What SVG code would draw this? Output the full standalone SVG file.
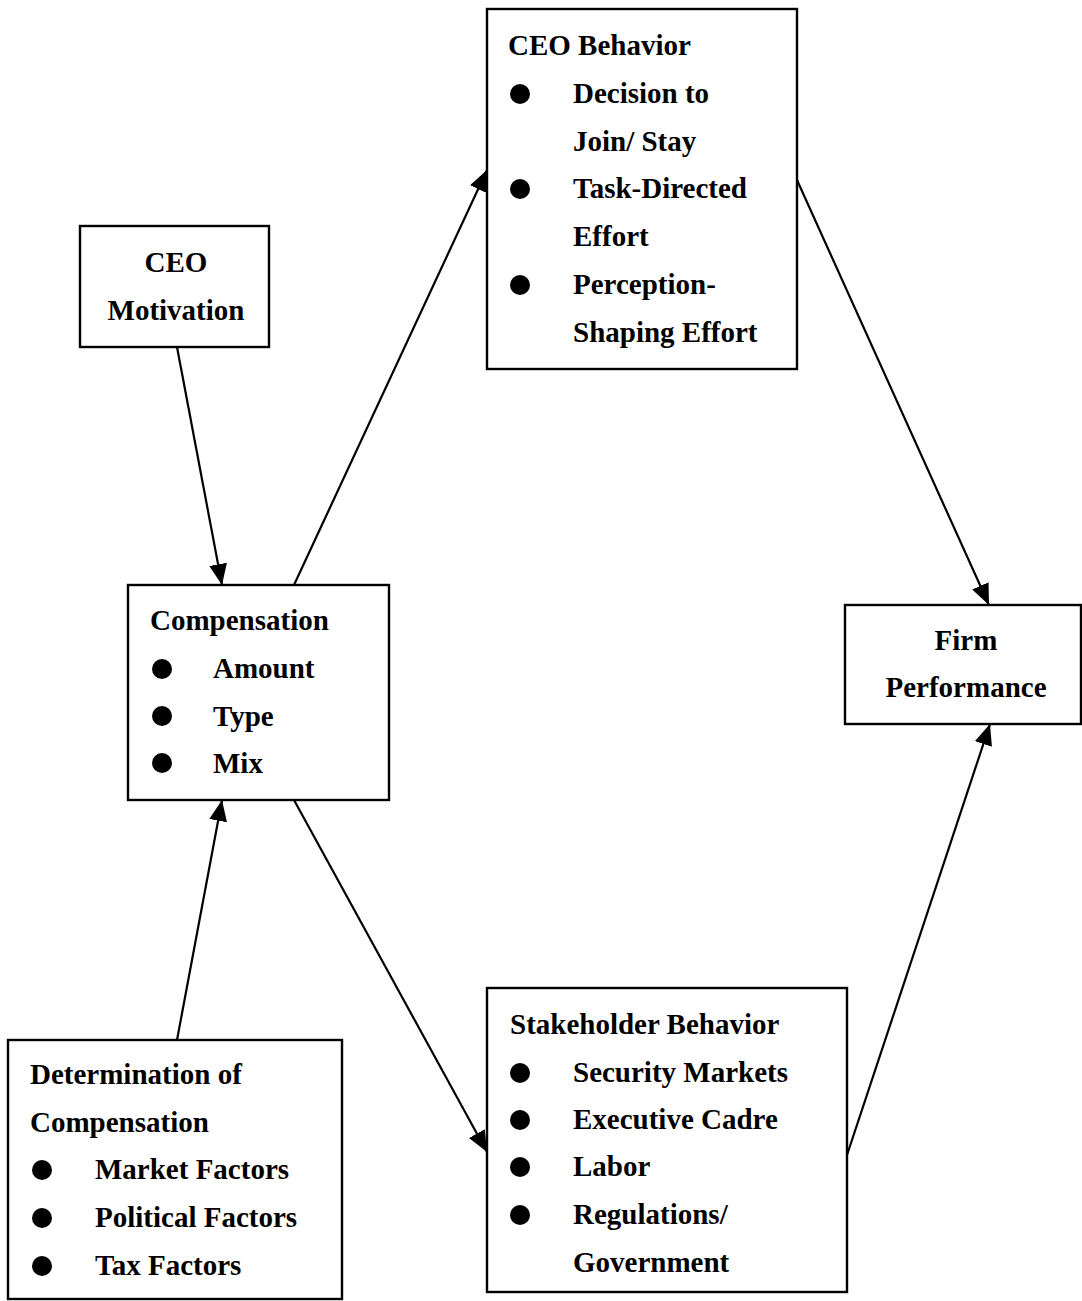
<svg xmlns="http://www.w3.org/2000/svg" width="1082" height="1301" viewBox="0 0 1082 1301">
<defs>
<style>
.box{fill:#fff;stroke:#000;stroke-width:2.4}
.t{font-family:"Liberation Serif","Times New Roman",serif;font-weight:bold;font-size:29px;fill:#000}
.c{text-anchor:middle}
.b{fill:#000}
.edge{stroke:#000;stroke-width:2.2;fill:none;marker-end:url(#ah)}
</style>
<marker id="ah" markerUnits="userSpaceOnUse" markerWidth="22" markerHeight="18" refX="21" refY="9" orient="auto">
<path d="M0,0 L21,9 L0,18 z" fill="#000"/>
</marker>
</defs>
<rect width="1082" height="1301" fill="#fff"/>
<g id="connectors">
<line class="edge" x1="177" y1="347" x2="222" y2="585"/>
<line class="edge" x1="294" y1="585" x2="487" y2="170"/>
<line class="edge" x1="797" y1="180" x2="989" y2="605"/>
<line class="edge" x1="294" y1="800" x2="487" y2="1152"/>
<line class="edge" x1="177" y1="1040" x2="222" y2="800"/>
<line class="edge" x1="847" y1="1155" x2="990" y2="724"/>
</g>
<g id="ceo-behavior">
<rect class="box" x="487" y="9" width="310" height="360"/>
<text class="t" x="508" y="55">CEO Behavior</text>
<circle class="b" cx="520" cy="94" r="10"/>
<text class="t" x="573" y="103">Decision to</text>
<text class="t" x="573" y="151">Join/ Stay</text>
<circle class="b" cx="520" cy="189" r="10"/>
<text class="t" x="573" y="198">Task-Directed</text>
<text class="t" x="573" y="246">Effort</text>
<circle class="b" cx="520" cy="285" r="10"/>
<text class="t" x="573" y="294">Perception-</text>
<text class="t" x="573" y="342">Shaping Effort</text>
</g>
<g id="ceo-motivation">
<rect class="box" x="80" y="226" width="189" height="121"/>
<text class="t c" x="176" y="272">CEO</text>
<text class="t c" x="176" y="320">Motivation</text>
</g>
<g id="compensation">
<rect class="box" x="128" y="585" width="261" height="215"/>
<text class="t" x="150" y="630">Compensation</text>
<circle class="b" cx="162" cy="669" r="10"/>
<text class="t" x="213" y="678">Amount</text>
<circle class="b" cx="162" cy="716" r="10"/>
<text class="t" x="213" y="726">Type</text>
<circle class="b" cx="162" cy="763" r="10"/>
<text class="t" x="213" y="773">Mix</text>
</g>
<g id="firm-performance">
<rect class="box" x="845" y="605" width="236" height="119"/>
<text class="t c" x="966" y="650">Firm</text>
<text class="t c" x="966" y="697">Performance</text>
</g>
<g id="determination">
<rect class="box" x="8" y="1040" width="334" height="259"/>
<text class="t" x="30" y="1084">Determination of</text>
<text class="t" x="30" y="1132">Compensation</text>
<circle class="b" cx="42" cy="1170" r="10"/>
<text class="t" x="95" y="1179">Market Factors</text>
<circle class="b" cx="42" cy="1218" r="10"/>
<text class="t" x="95" y="1227">Political Factors</text>
<circle class="b" cx="42" cy="1266" r="10"/>
<text class="t" x="95" y="1275">Tax Factors</text>
</g>
<g id="stakeholder-behavior">
<rect class="box" x="487" y="988" width="360" height="304"/>
<text class="t" x="510" y="1034">Stakeholder Behavior</text>
<circle class="b" cx="520" cy="1073" r="10"/>
<text class="t" x="573" y="1082">Security Markets</text>
<circle class="b" cx="520" cy="1120" r="10"/>
<text class="t" x="573" y="1129">Executive Cadre</text>
<circle class="b" cx="520" cy="1167" r="10"/>
<text class="t" x="573" y="1176">Labor</text>
<circle class="b" cx="520" cy="1215" r="10"/>
<text class="t" x="573" y="1224">Regulations/</text>
<text class="t" x="573" y="1272">Government</text>
</g>
</svg>
